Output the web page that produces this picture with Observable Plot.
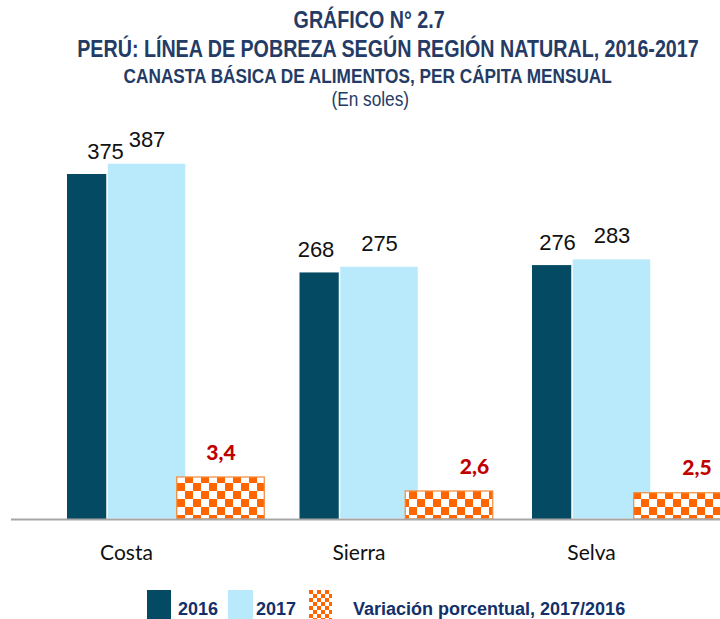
<!DOCTYPE html>
<html><head><meta charset="utf-8">
<script src="https://cdn.jsdelivr.net/npm/d3@7"></script>
<script src="https://cdn.jsdelivr.net/npm/@observablehq/plot@0.6"></script>
<style>
html,body{margin:0;padding:0;background:#fff}
#page{position:relative;width:720px;height:619px;overflow:hidden;background:#fff}
.t{position:absolute;width:1000px;text-align:center;white-space:nowrap;line-height:1;color:#243b66;font-family:"Liberation Sans",Arial,sans-serif}
.t span{display:inline-block;transform:scaleX(0.82);transform-origin:50% 50%}
#chart{position:absolute;left:0;top:120px}
.sw{position:absolute;top:590px;height:30px}
.lt{position:absolute;top:600px;font:bold 18px "Liberation Sans",Arial,sans-serif;color:#14306a;line-height:1;white-space:nowrap}
</style></head>
<body><div id="page">
<div class="t" style="top:8px;left:-131px;font-weight:bold;font-size:24px"><span>GRÁFICO N° 2.7</span></div>
<div class="t" style="top:37px;left:-112px;font-weight:bold;font-size:24px"><span>PERÚ: LÍNEA DE POBREZA SEGÚN REGIÓN NATURAL, 2016-2017</span></div>
<div class="t" style="top:65px;left:-132px;font-weight:bold;font-size:21px"><span>CANASTA BÁSICA DE ALIMENTOS, PER CÁPITA MENSUAL</span></div>
<div class="t" style="top:88px;left:-130px;font-size:21px"><span>(En soles)</span></div>
<div id="chart"></div>
<div id="legend"></div>
</div>
<script>
// ---- data ----
const regions = ["Costa", "Sierra", "Selva"];
const v2016 = [375, 268, 276];
const v2017 = [387, 275, 283];
const variacion = [3.4, 2.6, 2.5];
const seriesNames = ["2016", "2017", "Variación porcentual, 2017/2016"];

// ---- layout ----
const C_DARK = "#034a62", C_LIGHT = "#b8eafb", C_ORANGE = "#ff6600";
const U = 232.5;                         // px per category step (primary)
const label16Nudge = [19, -3, 6];        // px, manual label placement
const varLabelNudge = [0, 25, 19];       // px
const secCenter = i => (94.5 + 228.5 * i) / U; // secondary category axis
const yMax = 433.7;
const ySec = d3.scaleLinear().domain([1, 23.8]).range([0, yMax]); // secondary value axis -> primary units

const rows = regions.map((r, i) => ({region: r, i, a: v2016[i], b: v2017[i], v: variacion[i]}));
const fmt = d3.format(".1f");
const comma = x => fmt(x).replace(".", ",");

const numFont = '"Liberation Sans", Arial, sans-serif';

const svg = Plot.plot({
  width: 720, height: 465,
  marginTop: 0, marginRight: 0, marginBottom: 66, marginLeft: 0,
  x: {domain: [-126 / U, 594 / U], axis: null},
  y: {domain: [0, yMax], axis: null},
  style: {background: "transparent", overflow: "visible"},
  marks: [
    Plot.rectY(rows, {x1: d => d.i - 59 / U, x2: d => d.i + 20 / U, y: "a", fill: C_DARK}),
    Plot.rectY(rows, {x1: d => d.i - 19 / U, x2: d => d.i + 60 / U, y: "b", fill: C_LIGHT, stroke: "white", strokeWidth: 1.5}),
    Plot.rectY(rows, {x1: d => secCenter(d.i) - 43.75 / U, x2: d => secCenter(d.i) + 43.75 / U, y1: 0, y2: d => ySec(d.v), fill: "url(#checker)", stroke: "#f28a3a", strokeWidth: 1.2}),
    Plot.ruleY([0], {stroke: "#a6a6a6", strokeWidth: 2, insetLeft: 11}),
    Plot.text(rows, {ariaLabel: "num", x: d => d.i - 40 / U + label16Nudge[d.i] / U, y: "a", text: d => String(d.a), dy: -16, lineAnchor: "bottom", fontFamily: numFont, fontSize: 22, fill: "#111"}),
    Plot.text(rows, {ariaLabel: "num", x: d => d.i + 20.5 / U, y: "b", text: d => String(d.b), dy: -16, lineAnchor: "bottom", fontFamily: numFont, fontSize: 22, fill: "#111"}),
    Plot.text(rows, {x: d => secCenter(d.i) + varLabelNudge[d.i] / U, y: d => ySec(d.v), text: d => comma(d.v), dy: -18, lineAnchor: "bottom", fontFamily: "Lato, sans-serif", fontWeight: 900, fontSize: 21, fill: "#c00000"}),
    Plot.text(rows, {x: "i", y: 0, text: "region", dy: 40, lineAnchor: "bottom", fontFamily: "Lato, sans-serif", fontSize: 21, fill: "#111"})
  ]
});

// narrow the number labels (Arial Narrow look)
d3.select(svg).selectAll('g[aria-label="num"] text').each(function() {
  const el = d3.select(this);
  const x = el.attr("x"), y = el.attr("y");
  let tr = el.attr("transform") || "";
  if (x != null || y != null) {
    tr = `translate(${+x || 0},${+y || 0}) ` + tr;
    el.attr("x", null).attr("y", null);
  }
  el.attr("transform", tr + " scale(0.82,1)");
});

const defs = d3.select(svg).insert("defs", ":first-child");
const pat = defs.append("pattern").attr("id", "checker").attr("patternUnits", "userSpaceOnUse")
  .attr("width", 16).attr("height", 16).attr("x", 1).attr("y", 3);
pat.append("rect").attr("width", 16).attr("height", 16).attr("fill", C_ORANGE);
pat.append("rect").attr("width", 8).attr("height", 8).attr("fill", "#fff");
pat.append("rect").attr("x", 8).attr("y", 8).attr("width", 8).attr("height", 8).attr("fill", "#fff");
document.getElementById("chart").appendChild(svg);

// ---- legend ----
const lg = document.getElementById("legend");
const swatches = [
  {left: 147, w: 24, bg: C_DARK, textLeft: 178},
  {left: 228, w: 25, bg: C_LIGHT, textLeft: 256},
  {left: 309, w: 23, bg: null, textLeft: 353}
];
swatches.forEach((s, k) => {
  const sw = document.createElement("div");
  sw.className = "sw";
  sw.style.left = s.left + "px";
  sw.style.width = s.w + "px";
  if (s.bg) sw.style.background = s.bg;
  else {
    sw.style.backgroundColor = C_ORANGE;
    sw.style.backgroundImage = "conic-gradient(#fff 25%, transparent 0 50%, #fff 0 75%, transparent 0)";
    sw.style.backgroundSize = "8px 8px";
  }
  lg.appendChild(sw);
  const t = document.createElement("div");
  t.className = "lt";
  t.style.left = s.textLeft + "px";
  t.textContent = seriesNames[k];
  lg.appendChild(t);
});
</script>
</body></html>
